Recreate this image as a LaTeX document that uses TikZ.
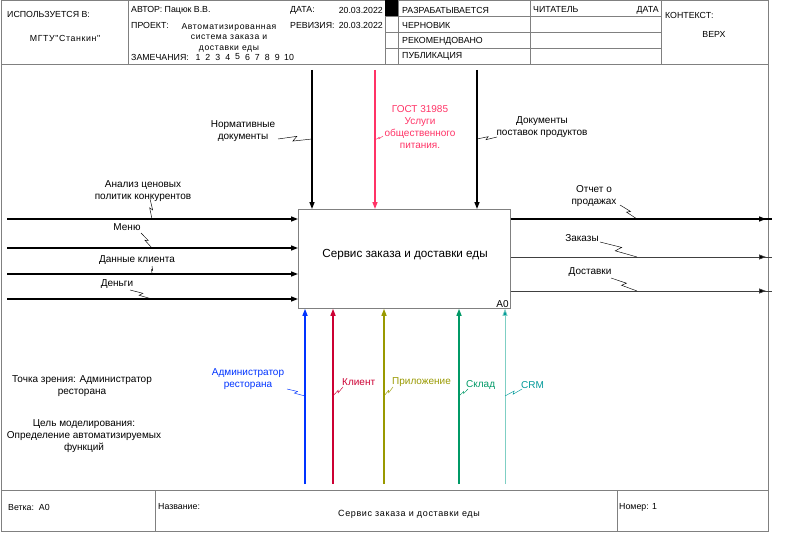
\documentclass[tikz,border=0pt]{standalone}
\usepackage{fontspec}
\setmainfont{Liberation Sans}
\newfontfamily\widefont[LetterSpace=7]{Liberation Sans}
\usetikzlibrary{arrows.meta,calc}

\definecolor{framegray}{HTML}{808080}
\definecolor{gostpink}{HTML}{FF3366}
\definecolor{adminblue}{HTML}{0033FF}
\definecolor{clientred}{HTML}{CC0033}
\definecolor{appolive}{HTML}{999900}
\definecolor{stockgreen}{HTML}{009966}
\definecolor{crmteal}{HTML}{009999}
\definecolor{crmline}{HTML}{7FCFC4}

\newcommand\hdrsize{\fontsize{8.8}{10}\selectfont}
\newcommand\lblsize{\fontsize{10}{12}\selectfont}
\newcommand\squig[3][black]{\draw[squigline,draw=#1] (#2) -- ($(#2)!0.56!8:(#3)$) -- ($(#2)!0.44!-8:(#3)$) -- (#3);}

\tikzset{
  frameline/.style={draw=framegray, line width=0.8pt},
  hdr/.style={font=\hdrsize, inner sep=0pt, anchor=west},
  hdrc/.style={font=\hdrsize, inner sep=0pt, align=center},
  lbl/.style={font=\lblsize, inner sep=0pt, align=center},
  lblw/.style={font=\lblsize, inner sep=0pt, anchor=west},
  flow/.style={line width=1.4pt, -{Triangle[length=7pt,width=5pt]}},
  thinflow/.style={line width=0.7pt, draw=black!75, -{Triangle[length=7pt,width=5pt,fill=black]}},
  squigline/.style={line width=0.45pt},
}

\begin{document}
\begin{tikzpicture}[x=1pt,y=-1pt]
\useasboundingbox (0,0) rectangle (799,532);

% ---- outer frame, header and footer grid
\draw[frameline] (1,0.5) rectangle (768,531);
\draw[frameline] (1,64) -- (768,64);
\draw[frameline] (1,490) -- (768,490);
\foreach \xx in {128,385,398,530,661}
  \draw[frameline] (\xx,0.5) -- (\xx,64);
\foreach \yy in {16,32,48}
  \draw[frameline] (385,\yy) -- (661,\yy);
\fill (385,0.5) rectangle (398,16);
\draw[frameline] (155,490) -- (155,531);
\draw[frameline] (617,490) -- (617,531);

% ---- header texts
\node[hdr] (usedin) at (7,14) {ИСПОЛЬЗУЕТСЯ В:};
\node[hdrc, font=\fontsize{8.8}{10}\selectfont\widefont] (org) at (65,38) {МГТУ"Станкин"};
\node[hdr] (author) at (131,10) {АВТОР: Пацюк В.В.};
\node[hdr] (datelbl) at (290,10) {ДАТА:};
\node[hdr, anchor=east] (dateval) at (383,10) {20.03.2022};
\node[hdr] (project) at (131,25) {ПРОЕКТ:};
\node[hdrc, font=\fontsize{8.6}{10.5}\selectfont\widefont] (projname) at (229,37.5)
  {Автоматизированная\\система заказа и\\доставки еды};
\node[hdr] (revlbl) at (290,25) {РЕВИЗИЯ:};
\node[hdr, anchor=east] (revval) at (383,25) {20.03.2022};
\node[hdr] (notes) at (131,57) {ЗАМЕЧАНИЯ:};
\foreach \n [count=\k] in {1,2,3,4,5,6,7,8,9}
  \node[hdrc] (num\n) at ({198+(\k-1)*9.9},57) {\n};
\node[hdrc] (num10) at (289,57) {10};

\node[hdr] (st1) at (402,10) {РАЗРАБАТЫВАЕТСЯ};
\node[hdr] (st2) at (402,25) {ЧЕРНОВИК};
\node[hdr] (st3) at (402,41) {РЕКОМЕНДОВАНО};
\node[hdr] (st4) at (402,56) {ПУБЛИКАЦИЯ};
\node[hdr] (reader) at (533,10) {ЧИТАТЕЛЬ};
\node[hdr, anchor=east] (readdate) at (659,10) {ДАТА};
\node[hdr] (context) at (665,15) {КОНТЕКСТ:};
\node[hdrc] (top) at (714,34) {ВЕРХ};

% ---- function block
\node[draw=framegray, line width=0.8pt, minimum width=212pt, minimum height=99pt,
      anchor=north west, inner sep=0pt] (box) at (298,209) {};
\node[font=\fontsize{11.7}{13}\selectfont, inner sep=0pt] (boxname) at (405,255)
  {Сервис заказа и доставки еды};
\node[font=\fontsize{10}{11}\selectfont, inner sep=0pt, anchor=south east] (boxid)
  at ($(box.south east)+(-2,-1)$) {A0};

% ---- inputs
\foreach \i/\yy in {1/219,2/248,3/274,4/299}
  \coordinate (in\i) at (7,\yy);
\foreach \i in {1,...,4}
  \draw[flow] (in\i) -- (in\i -| box.west);

\node[lbl] (inlbl1) at (143,191) {Анализ ценовых\\политик конкурентов};
\node[lbl] (inlbl2) at (127,227) {Меню};
\node[lbl] (inlbl3) at (137,260) {Данные клиента};
\node[lbl] (inlbl4) at (117,284) {Деньги};
\coordinate (inp1) at (152,219);
\coordinate (inp2) at (152,248);
\coordinate (inp3) at (152,274);
\coordinate (inp4) at (152,299);
\squig{150,199}{inp1}
\squig{141,233}{inp2}
\squig{152,266}{inp3}
\squig{130,290}{inp4}

% ---- outputs: arrow heads stop short of the line ends past the frame
\foreach \i/\yy in {1/219,2/257,3/291} {
  \coordinate (out\i) at (766,\yy);
  \coordinate (outend\i) at (772,\yy);
}
\draw[line width=1.4pt] (out1 -| box.east) -- (outend1);
\draw[flow] (out1 -| box.east) -- (out1);
\draw[line width=0.7pt, draw=black!75] (out2 -| box.east) -- (outend2);
\draw[thinflow] (out2 -| box.east) -- (out2);
\draw[line width=0.7pt, draw=black!75] (out3 -| box.east) -- (outend3);
\draw[thinflow] (out3 -| box.east) -- (out3);

\node[lbl] (outlbl1) at (594,196) {Отчет о\\продажах};
\node[lbl] (outlbl2) at (582,238) {Заказы};
\node[lbl] (outlbl3) at (590,272) {Доставки};
\coordinate (outp1) at (637,219);
\coordinate (outp2) at (637,257);
\coordinate (outp3) at (637,291);
\squig{620,205}{outp1}
\squig{600,242}{outp2}
\squig{611,278}{outp3}

% ---- controls
\coordinate (ctl1) at (312,70);
\coordinate (ctl2) at (375,70);
\coordinate (ctl3) at (477,70);
\draw[flow] (ctl1) -- (ctl1 |- box.north);
\draw[flow, draw=gostpink, -{Triangle[length=7pt,width=5pt,fill=gostpink]}] (ctl2) -- (ctl2 |- box.north);
\draw[flow] (ctl3) -- (ctl3 |- box.north);

\node[lbl] (ctllbl1) at (243,131) {Нормативные\\документы};
\node[lbl, text=gostpink] (ctllbl2) at (420,127.5) {ГОСТ 31985\\Услуги\\общественного\\питания.};
\node[lbl] (ctllbl3) at (542,127) {Документы\\поставок продуктов};
\coordinate (ctlp1) at (312,139);
\coordinate (ctlp2) at (375,140);
\coordinate (ctlp3) at (477,139);
\squig{278,139}{ctlp1}
\squig[gostpink]{383,136}{ctlp2}
\squig{497,137}{ctlp3}

% ---- mechanisms
\coordinate (mech1) at (305,484);
\coordinate (mech2) at (333,484);
\coordinate (mech3) at (384,484);
\coordinate (mech4) at (459,484);
\coordinate (mech5) at (505,484);
\draw[flow, draw=adminblue, -{Triangle[length=7pt,width=5pt,fill=adminblue]}] (mech1) -- (mech1 |- box.south);
\draw[flow, draw=clientred, -{Triangle[length=7pt,width=5pt,fill=clientred]}] (mech2) -- (mech2 |- box.south);
\draw[flow, draw=appolive, -{Triangle[length=7pt,width=5pt,fill=appolive]}] (mech3) -- (mech3 |- box.south);
\draw[flow, draw=stockgreen, -{Triangle[length=7pt,width=5pt,fill=stockgreen]}] (mech4) -- (mech4 |- box.south);
\draw[thinflow, draw=crmline, -{Triangle[length=7pt,width=5pt,fill=crmteal]}] (mech5) -- (mech5 |- box.south);

\node[lbl, text=adminblue] (mechlbl1) at (248,379) {Администратор\\ресторана};
\node[lblw, text=clientred] (mechlbl2) at (342,382) {Клиент};
\node[lblw, text=appolive] (mechlbl3) at (392,382) {Приложение};
\node[lblw, text=stockgreen] (mechlbl4) at (466,385) {Склад};
\node[lblw, text=crmteal] (mechlbl5) at (521,385) {CRM};
\coordinate (mechp1) at (305,396);
\coordinate (mechp2) at (333,396);
\coordinate (mechp3) at (384,396);
\coordinate (mechp4) at (459,396);
\coordinate (mechp5) at (505,396);
\squig[adminblue]{287,389}{mechp1}
\squig[clientred]{343,387}{mechp2}
\squig[appolive]{393,387}{mechp3}
\squig[stockgreen]{468,389}{mechp4}
\squig[crmteal]{522,389}{mechp5}

% ---- viewpoint and purpose
\node[lbl] (viewpoint) at (82,386) {Точка зрения: Администратор\\ресторана};
\node[lbl] (purpose) at (84,436) {Цель моделирования:\\Определение автоматизируемых\\функций};

% ---- footer texts
\node[hdr] (node) at (8,507) {Ветка:\ \ A0};
\node[hdr] (title) at (158,507) {Название:};
\node[hdrc, font=\fontsize{9}{10}\selectfont\widefont] (titleval) at (409,514) {Сервис заказа и доставки еды};
\node[hdr] (number) at (619,507) {Номер: 1};
\end{tikzpicture}
\end{document}
